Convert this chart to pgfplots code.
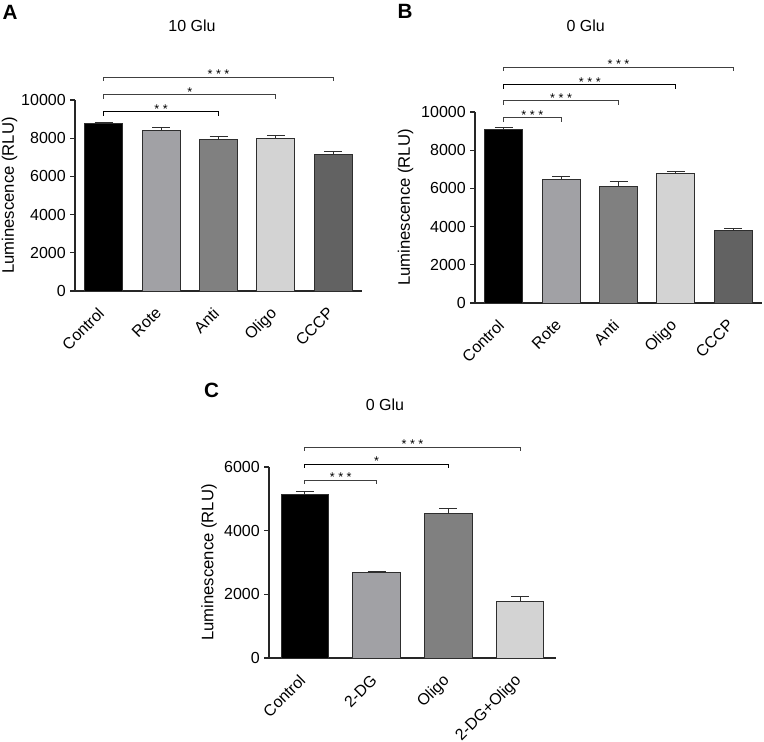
\documentclass[border=0pt]{standalone}
\usepackage{fontspec}
\setmainfont{Liberation Sans}
\usepackage{pgfplots}
\pgfplotsset{compat=1.18}
\definecolor{cA}{HTML}{000000}
\definecolor{cB}{HTML}{A1A1A5}
\definecolor{cC}{HTML}{808080}
\definecolor{cD}{HTML}{D3D3D3}
\definecolor{cE}{HTML}{626262}
\definecolor{outl}{HTML}{2E2E2E}
\newcommand\fs[1]{\fontsize{#1}{#1}\selectfont}
\tikzset{
  brk/.style={line width=0.75pt, draw=black!75},
  st/.style={anchor=base, font=\fs{9.5}, inner sep=0pt, yshift=-1pt},
}
\pgfplotsset{
  panel/.style={
    scale only axis, width=215.25pt, height=143.25pt,
    axis lines=left, axis line style={-, line width=0.9pt, draw=black!85},
    ymin=0, xmin=-0.5, clip=false, scaled y ticks=false,
    xtick style={draw=none},
    ytick style={line width=0.9pt, draw=black!85},
    tick align=outside, major tick length=3.75pt,
    yticklabel style={font=\fs{12}, inner sep=3pt},
    xticklabel style={font=\fs{12}, xshift=-5pt, yshift=-7.5pt, rotate=45, anchor=north east, inner sep=0pt},
    ylabel style={font=\fs{12.5}, anchor=center},
    ylabel={Luminescence (RLU)},
    /pgf/number format/1000 sep={},
    /pgf/number format/assume math mode=true,
  },
  b/.style={ybar, bar width=0.66, bar shift=0pt, fill=#1, draw=outl, line width=0.75pt,
    error bars/.cd, y dir=plus, y explicit,
    error bar style={line width=0.75pt, draw=outl},
    error mark options={rotate=90, line width=0.75pt, draw=outl, mark size=6.75pt}},
}
\begin{document}
\begin{tikzpicture}
\path[use as bounding box] (0,0) rectangle (573pt,-556.5pt);
% panel letters and titles
\node[font=\bfseries\fs{15.5}] at (7.5pt,-9.4pt) {A};
\node[font=\bfseries\fs{15.5}] at (303.75pt,-8.25pt) {B};
\node[font=\bfseries\fs{15.5}] at (158.6pt,-292.5pt) {C};
\node[font=\fs{12}] at (144pt,-19.5pt) {10 Glu};
\node[font=\fs{12}] at (439.3pt,-19.5pt) {0 Glu};
\node[font=\fs{12}] at (288.75pt,-303.75pt) {0 Glu};

% ---------------- Panel A ----------------
\begin{axis}[panel, at={(56.25pt,-218.25pt)}, anchor=south west,
  xmax=4.5, ymax=10000, ytick={0,2000,4000,6000,8000,10000},
  xtick={0,1,2,3,4}, xticklabels={Control,Rote,Anti,Oligo,CCCP},
  ylabel style={at={(rel axis cs:-0.2276,0.5)}}]
\addplot[b=cA] coordinates {(0,8761) +- (0,70)};
\addplot[b=cB] coordinates {(1,8429) +- (0,157)};
\addplot[b=cC] coordinates {(2,7923) +- (0,175)};
\addplot[b=cD] coordinates {(3,7993) +- (0,157)};
\addplot[b=cE] coordinates {(4,7155) +- (0,140)};
\draw[brk] (axis cs:0,11000) -- (axis cs:0,11204) -- (axis cs:4,11204) -- (axis cs:4,11000);
\node[st] at (axis cs:2,11204) {* * *};
\draw[brk] (axis cs:0,10060) -- (axis cs:0,10262) -- (axis cs:3,10262) -- (axis cs:3,10060);
\node[st] at (axis cs:1.5,10262) {*};
\draw[brk, draw=black] (axis cs:0,9170) -- (axis cs:0,9372) -- (axis cs:2,9372) -- (axis cs:2,9170);
\node[st] at (axis cs:1,9372) {* *};
\end{axis}

% ---------------- Panel B ----------------
\begin{axis}[panel, at={(356.25pt,-227.25pt)}, anchor=south west,
  xmax=4.5, ymax=10000, ytick={0,2000,4000,6000,8000,10000},
  xtick={0,1,2,3,4}, xticklabels={Control,Rote,Anti,Oligo,CCCP},
  ylabel style={at={(rel axis cs:-0.2416,0.5)}}]
\addplot[b=cA] coordinates {(0,9089) +- (0,123)};
\addplot[b=cB] coordinates {(1,6462) +- (0,140)};
\addplot[b=cC] coordinates {(2,6095) +- (0,262)};
\addplot[b=cD] coordinates {(3,6795) +- (0,105)};
\addplot[b=cE] coordinates {(4,3818) +- (0,87)};
\draw[brk] (axis cs:0,12150) -- (axis cs:0,12356) -- (axis cs:4,12356) -- (axis cs:4,12150);
\node[st] at (axis cs:2,12356) {* * *};
\draw[brk, draw=black] (axis cs:0,11210) -- (axis cs:0,11414) -- (axis cs:3,11414) -- (axis cs:3,11210);
\node[st] at (axis cs:1.5,11414) {* * *};
\draw[brk] (axis cs:0,10370) -- (axis cs:0,10576) -- (axis cs:2,10576) -- (axis cs:2,10370);
\node[st] at (axis cs:1,10576) {* * *};
\draw[brk] (axis cs:0,9480) -- (axis cs:0,9686) -- (axis cs:1,9686) -- (axis cs:1,9480);
\node[st] at (axis cs:0.5,9686) {* * *};
\end{axis}

% ---------------- Panel C ----------------
\begin{axis}[panel, at={(201.75pt,-493.5pt)}, anchor=south west,
  xmax=3.5, ymax=6000, ytick={0,2000,4000,6000},
  xtick={0,1,2,3}, xticklabels={Control,2-DG,Oligo,2-DG+Oligo},
  ylabel style={at={(rel axis cs:-0.209,0.5)}}]
\addplot[b=cA] coordinates {(0,5138) +- (0,84)};
\addplot[b=cB] coordinates {(1,2700) +- (0,22)};
\addplot[b=cC] coordinates {(2,4529) +- (0,179)};
\addplot[b=cD] coordinates {(3,1786) +- (0,137)};
\draw[brk] (axis cs:0,6505) -- (axis cs:0,6628) -- (axis cs:3,6628) -- (axis cs:3,6505);
\node[st] at (axis cs:1.5,6628) {* * *};
\draw[brk, draw=black] (axis cs:0,5970) -- (axis cs:0,6094) -- (axis cs:2,6094) -- (axis cs:2,5970);
\node[st] at (axis cs:1,6094) {*};
\draw[brk] (axis cs:0,5470) -- (axis cs:0,5592) -- (axis cs:1,5592) -- (axis cs:1,5470);
\node[st] at (axis cs:0.5,5592) {* * *};
\end{axis}
\end{tikzpicture}
\end{document}
